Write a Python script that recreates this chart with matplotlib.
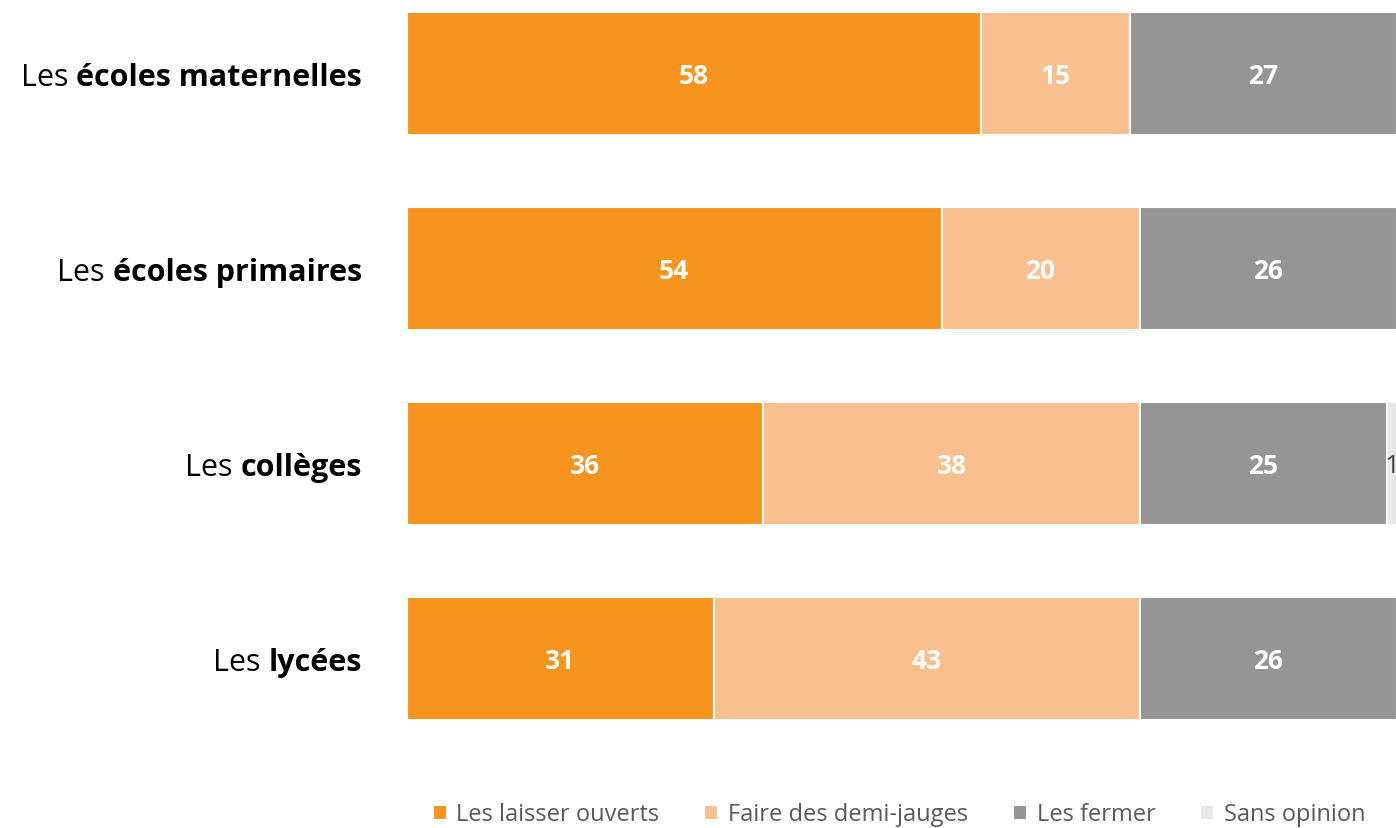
from matplotlib import pyplot as plt
from matplotlib import transforms
import numpy as np

plt.rcParams['font.family'] = ['Open Sans', 'DejaVu Sans']

CATEGORIES_PREFIX = ["Les", "Les", "Les", "Les"]
CATEGORIES_BOLD = ["écoles maternelles", "écoles primaires", "collèges", "lycées"]
SERIES_NAMES = ["Les laisser ouverts", "Faire des demi-jauges", "Les fermer", "Sans opinion"]
OUVERTS = [58, 54, 36, 31]
DEMI_JAUGES = [15, 20, 38, 43]
FERMER = [27, 26, 25, 26]
SANS_OPINION = [0, 0, 1, 0]

COLORS = ["#F7941D", "#F9C08F", "#959595", "#E8E8E8"]
LABEL_COLORS = ["white", "white", "white", "#404040"]


def main():
    fig = plt.figure(figsize=(13.96, 8.29), dpi=100)
    # axes spans px x 407 -> 1397, y 0 -> 760
    ax = fig.add_axes([407 / 1396, 69 / 829, 990 / 1396, 760 / 829])

    series = [OUVERTS, DEMI_JAUGES, FERMER, SANS_OPINION]
    y = np.arange(len(CATEGORIES_BOLD))
    left = np.zeros(len(y))
    handles = []
    for values, name, color, lcolor in zip(series, SERIES_NAMES, COLORS, LABEL_COLORS):
        values = np.array(values, dtype=float)
        bars = ax.barh(y, values, left=left, height=0.63, color=color,
                       edgecolor="white", linewidth=1.5, label=name)
        handles.append(bars)
        for yi, v, l in zip(y, values, left):
            if v <= 0:
                continue
            bold = "bold" if lcolor == "white" else "normal"
            ax.text(l + v / 2, yi - 0.008, f"{int(v)}", ha="center",
                    va="center_baseline", color=lcolor, fontsize=19,
                    fontweight=bold, clip_on=False)
        left += values

    ax.set_xlim(0, 100)
    ax.set_ylim(3.514, -0.384)
    ax.axis("off")

    # category labels: regular "Les" + bold part, right aligned at px 362
    trans = ax.get_yaxis_transform()
    x_anchor = -45 / 990
    bold_texts = []
    for yi, b in zip(y, CATEGORIES_BOLD):
        t = ax.text(x_anchor, yi, b, transform=trans, ha="right",
                    va="center_baseline", fontsize=22, fontweight="bold", color="black")
        bold_texts.append(t)
    fig.canvas.draw()
    renderer = fig.canvas.get_renderer()
    for yi, p, t in zip(y, CATEGORIES_PREFIX, bold_texts):
        w = t.get_window_extent(renderer).width
        tr = transforms.offset_copy(trans, fig=fig, x=-(w + 8), units="dots")
        ax.text(x_anchor, yi, p, transform=tr, ha="right",
                va="center_baseline", fontsize=22, color="black")

    ax.legend(handles=handles, loc="center", bbox_to_anchor=(0.497, -0.073),
              ncol=4, frameon=False, fontsize=17, handlelength=0.6,
              handleheight=0.6, handletextpad=0.4, columnspacing=1.9,
              labelcolor="#595959")

    fig.savefig("out.png", dpi=100)


if __name__ == "__main__":
    main()
